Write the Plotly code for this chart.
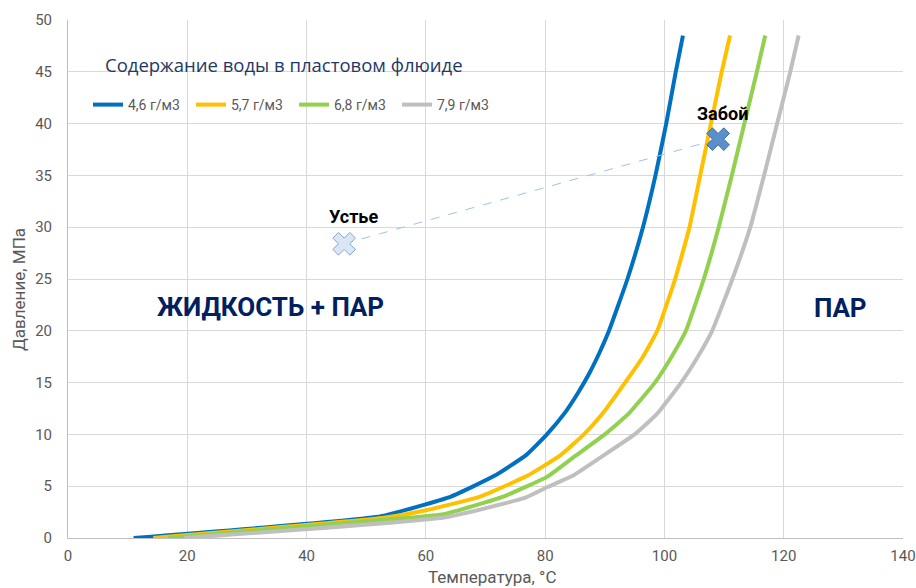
import plotly.graph_objects as go

# ---- data ----
series_names = ["4,6 г/м3", "5,7 г/м3", "6,8 г/м3", "7,9 г/м3"]
series_colors = ["#0070C0", "#FFC000", "#92D050", "#BFBFBF"]

t_46 = [11.0, 52.5, 64.2, 71.5, 76.8, 80.3, 83.2, 85.5, 87.5, 89.2, 90.7, 93.8, 96.4, 98.5, 100.3, 101.9, 103.1]
p_46 = [0.0, 2.1, 4.0, 6.0, 8.0, 10.0, 12.0, 14.0, 16.0, 18.0, 20.0, 25.0, 30.0, 35.0, 40.0, 45.0, 48.5]

t_57 = [14.3, 53.0, 60.2, 69.1, 77.0, 82.6, 86.5, 89.6, 93.4, 96.4, 98.8, 101.8, 104.2, 106.0, 107.8, 109.6, 111.0]
p_57 = [0.0, 1.95, 2.7, 4.0, 6.0, 8.0, 10.0, 12.0, 15.0, 17.5, 20.0, 25.0, 30.0, 35.0, 40.0, 45.0, 48.5]

t_68 = [16.8, 56.0, 63.0, 73.0, 80.3, 85.0, 90.0, 94.0, 98.4, 101.2, 103.6, 106.6, 109.1, 111.3, 113.4, 115.5, 116.9]
p_68 = [0.0, 1.9, 2.3, 4.0, 5.9, 7.9, 10.0, 12.0, 15.0, 17.5, 20.0, 25.0, 30.0, 35.0, 40.0, 45.0, 48.5]

t_79 = [19.5, 63.3, 76.7, 80.3, 84.6, 89.6, 95.0, 98.8, 102.8, 105.6, 108.0, 111.4, 114.4, 116.7, 118.9, 121.1, 122.5]
p_79 = [0.0, 2.0, 3.9, 4.9, 6.0, 7.9, 10.0, 12.0, 15.0, 17.5, 20.0, 25.0, 30.0, 35.0, 40.0, 45.0, 48.5]

point_labels = ["Устье", "Забой"]
point_t = [46.3, 109.0]
point_p = [28.4, 38.5]

region_labels = ["ЖИДКОСТЬ + ПАР", "ПАР"]
region_t = [33.9, 129.6]
region_p = [22.3, 22.2]

x_ticks = [0, 20, 40, 60, 80, 100, 120, 140]
y_ticks = [0, 5, 10, 15, 20, 25, 30, 35, 40, 45, 50]

legend_title = "Содержание воды в пластовом флюиде"
x_title = "Температура, °C"
y_title = "Давление, МПа"

# ---- layout geometry ----
W, H = 916, 588
ml, mr, mt, mb = 68, 13, 20, 50
pw, ph = W - ml - mr, H - mt - mb


def px_x(px):
    return (px - ml) / pw


def px_y(py):
    return 1 - (py - mt) / ph


FONT = "Roboto, Liberation Sans, sans-serif"
fig = go.Figure()

all_t = [t_46, t_57, t_68, t_79]
all_p = [p_46, p_57, p_68, p_79]
for name, col, tt, pp in zip(series_names, series_colors, all_t, all_p):
    fig.add_trace(go.Scatter(x=tt, y=pp, mode="lines", name=name,
                             line=dict(color=col, width=4, shape="spline", smoothing=0.4)))

# connector between wellhead and bottomhole
fig.add_trace(go.Scatter(x=point_t, y=point_p, mode="lines", showlegend=False,
                         line=dict(color="#9DC3E6", width=1, dash="dash"),
                         hoverinfo="skip"))
fig.add_trace(go.Scatter(x=[point_t[0]], y=[point_p[0]], mode="markers", showlegend=False,
                         marker=dict(symbol="x", size=20, color="#DAE6F3",
                                     line=dict(color="#7EA6D2", width=1))))
fig.add_trace(go.Scatter(x=[point_t[1]], y=[point_p[1]], mode="markers", showlegend=False,
                         marker=dict(symbol="x", size=20, color="#5B8FCB",
                                     line=dict(color="#3D6DA6", width=1))))

annotations = []
for lab, tx, py, dy, dx in zip(point_labels, point_t, point_p, [27, 26], [9, 4]):
    annotations.append(dict(x=tx, y=py, xref="x", yref="y", text="<b>" + lab + "</b>",
                            showarrow=False, yshift=dy, xshift=dx,
                            font=dict(family=FONT, size=18, color="#000000")))
for lab, tx, py in zip(region_labels, region_t, region_p):
    annotations.append(dict(x=tx, y=py, xref="x", yref="y", text="<b>" + lab + "</b>",
                            showarrow=False,
                            font=dict(family=FONT, size=26, color="#002060")))
annotations.append(dict(x=px_x(103), y=px_y(64), xref="paper", yref="paper", text=legend_title,
                        showarrow=False, xanchor="left", yanchor="middle",
                        font=dict(family="Open Sans, Noto Sans, sans-serif", size=18.5, color="#1F3864")))
annotations.append(dict(x=px_x(492), y=px_y(577), xref="paper", yref="paper", text=x_title,
                        showarrow=False, xanchor="center", yanchor="middle",
                        font=dict(family=FONT, size=17, color="#595959")))
annotations.append(dict(x=px_x(19), y=px_y(290), xref="paper", yref="paper", text=y_title,
                        showarrow=False, textangle=-90, xanchor="center", yanchor="middle",
                        font=dict(family=FONT, size=17, color="#595959")))

fig.update_layout(
    width=W, height=H,
    margin=dict(l=ml, r=mr, t=mt, b=mb, autoexpand=False),
    paper_bgcolor="white", plot_bgcolor="white",
    showlegend=True,
    legend=dict(orientation="h", x=px_x(88), y=px_y(105),
                xanchor="left", yanchor="middle",
                bgcolor="rgba(0,0,0,0)",
                font=dict(family=FONT, size=14, color="#595959"),
                entrywidth=58, entrywidthmode="pixels", itemwidth=30,
                tracegroupgap=0),
    annotations=annotations,
    xaxis=dict(range=[0, 140], tickvals=x_ticks, showgrid=True, gridcolor="#D9D9D9", gridwidth=1,
               showline=True, linecolor="#BFBFBF", linewidth=1, zeroline=False, ticks="",
               automargin=False, ticklabelstandoff=4,
               tickfont=dict(family=FONT, size=15, color="#595959"), fixedrange=True),
    yaxis=dict(range=[0, 50], tickvals=y_ticks, showgrid=True, gridcolor="#D9D9D9", gridwidth=1,
               showline=True, linecolor="#BFBFBF", linewidth=1, zeroline=False, ticks="",
               automargin=False, ticklabelstandoff=12,
               tickfont=dict(family=FONT, size=15, color="#595959"), fixedrange=True),
)

fig.write_html(
    "out.html",
    config={"displayModeBar": False},
    post_script="document.body.style.margin='0';document.body.style.overflow='hidden';",
)
